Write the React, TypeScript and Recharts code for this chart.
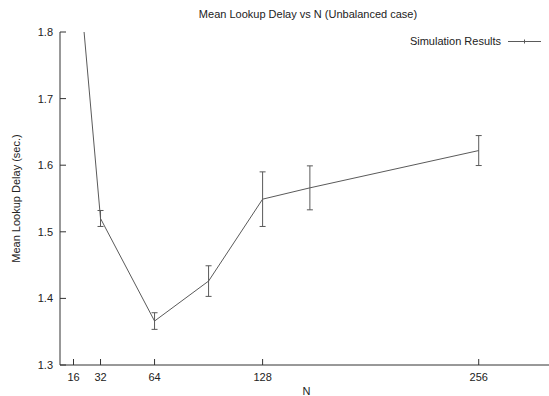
import { LineChart, Line, XAxis, YAxis, ErrorBar, Legend } from "recharts";

// Mean lookup delay (seconds) measured for each network size N
const sizes = [16, 32, 64, 96, 128, 156, 256];
const delays = [1.98, 1.52, 1.366, 1.426, 1.549, 1.566, 1.622];
const errors = [0.02, 0.012, 0.0125, 0.023, 0.041, 0.033, 0.0225];

const xTicks = [16, 32, 64, 128, 256];
const yTicks = [1.3, 1.4, 1.5, 1.6, 1.7, 1.8];

const data = sizes.map((n, i) => ({ n, delay: delays[i], err: errors[i] }));

const FONT = "'Liberation Sans', Arial, Helvetica, sans-serif";
const INK = "#222";
const AXIS = "#333";
const SERIES = "#5a5a5a";
const TICK = 6;

// gnuplot-style ticks: short marks drawn inward from the border
const BottomTick = (p: any) => (
  <g>
    <line x1={p.x} x2={p.x} y1={p.y - 8} y2={p.y - 8 - TICK} stroke={AXIS} />
    <text x={p.x} y={p.y} dy="0.71em" textAnchor="middle" fill={INK} fontSize={11} fontFamily={FONT}>
      {p.payload.value}
    </text>
  </g>
);

const TopTick = (p: any) => (
  <line x1={p.x} x2={p.x} y1={p.y} y2={p.y + TICK} stroke={AXIS} />
);

const LeftTick = (p: any) => (
  <g>
    <line x1={p.x + 7} x2={p.x + 7 + TICK} y1={p.y} y2={p.y} stroke={AXIS} />
    <text x={p.x} y={p.y} dy="0.355em" textAnchor="end" fill={INK} fontSize={11} fontFamily={FONT}>
      {p.payload.value.toFixed(1)}
    </text>
  </g>
);

const RightTick = (p: any) => (
  <line x1={p.x} x2={p.x - TICK} y1={p.y} y2={p.y} stroke={AXIS} />
);

const LegendBox = () => (
  <svg width={165} height={16} style={{ display: "block" }}>
    <text x={121} y={11} textAnchor="end" fill={INK} fontSize={11} fontFamily={FONT}>
      Simulation Results
    </text>
    <line x1={128} x2={161} y1={7.5} y2={7.5} stroke={SERIES} />
    <line x1={144.5} x2={144.5} y1={5.5} y2={9.5} stroke={SERIES} />
  </svg>
);

export default function App() {
  return (
    <div style={{ position: "absolute", left: 0, top: 0, width: 549, height: 396, overflow: "hidden", background: "#fff" }}>
      <div
        style={{
          position: "absolute", left: 0, top: 8, width: 616, textAlign: "center",
          fontFamily: FONT, fontSize: 11, lineHeight: "13px", color: INK,
        }}
      >
        Mean Lookup Delay vs N (Unbalanced case)
      </div>
      <LineChart width={556} height={396} data={data} margin={{ top: 32, right: 3, bottom: 0, left: 0 }}>
        <XAxis
          dataKey="n" type="number" domain={[8, 300]} ticks={xTicks} allowDataOverflow
          height={31} tickSize={0} tickMargin={8} tickLine={false} tick={BottomTick}
          axisLine={{ stroke: AXIS }}
          label={{ value: "N", position: "insideBottom", offset: 1, fill: INK, fontSize: 11, fontFamily: FONT }}
        />
        <XAxis
          xAxisId="top" orientation="top" type="number" domain={[8, 300]} ticks={xTicks} allowDataOverflow
          height={0} tickSize={0} tickMargin={0} tickLine={false} tick={TopTick} axisLine={{ stroke: AXIS }}
        />
        <YAxis
          type="number" domain={[1.3, 1.8]} ticks={yTicks} allowDataOverflow
          width={60} tickSize={0} tickMargin={7} tickLine={false} tick={LeftTick}
          axisLine={{ stroke: AXIS }}
          label={{
            value: "Mean Lookup Delay (sec.)", angle: -90, position: "insideLeft", offset: 16,
            fill: INK, fontSize: 11, fontFamily: FONT, style: { textAnchor: "middle" },
          }}
        />
        <YAxis
          yAxisId="right" orientation="right" type="number" domain={[1.3, 1.8]} ticks={yTicks} allowDataOverflow
          width={0} tickSize={0} tickMargin={0} tickLine={false} tick={RightTick} axisLine={{ stroke: AXIS }}
        />
        <Legend
          layout="vertical" verticalAlign="middle" align="center"
          wrapperStyle={{ top: 34, left: 380, width: 165 }}
          content={LegendBox}
        />
        <Line
          type="linear" dataKey="delay" name="Simulation Results" stroke={SERIES} strokeWidth={1}
          dot={false} activeDot={false} isAnimationActive={false}
        >
          <ErrorBar dataKey="err" width={3} stroke={SERIES} strokeWidth={1} isAnimationActive={false} />
        </Line>
      </LineChart>
    </div>
  );
}
